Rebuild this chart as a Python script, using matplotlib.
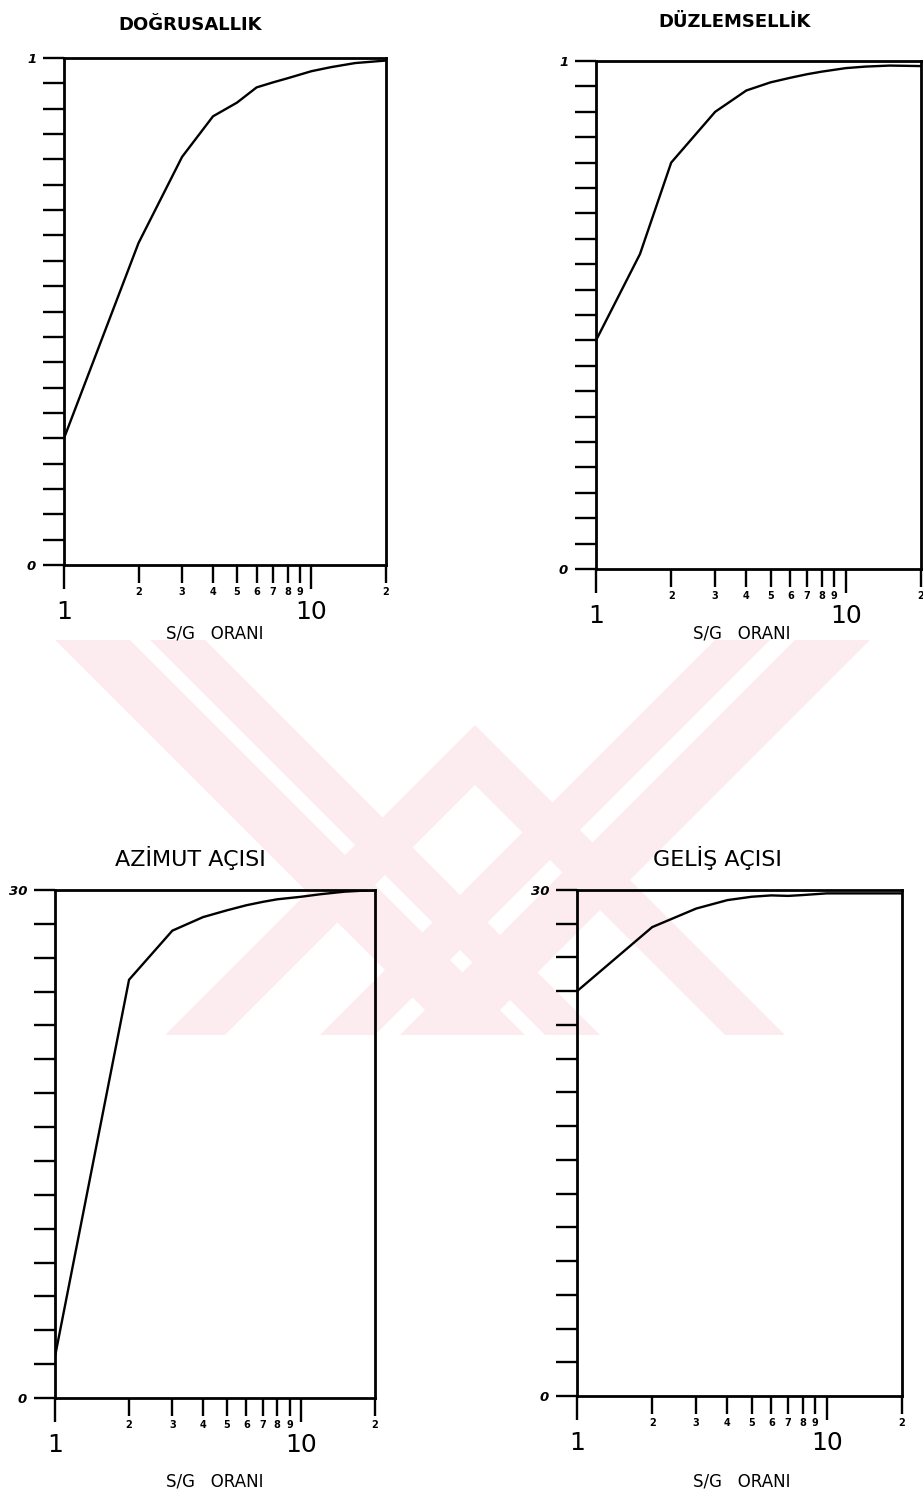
import numpy as np
import matplotlib
matplotlib.use('Agg')
import matplotlib.pyplot as plt
from matplotlib.patches import Polygon
from matplotlib.ticker import FixedLocator, FixedFormatter

# S/G ratio values and curves
sg_dog = [1, 2, 3, 4, 5, 6, 7, 8, 10, 12, 15, 20]
dogrusallik = [0.25, 0.635, 0.805, 0.885, 0.912, 0.942, 0.952, 0.96, 0.974, 0.982, 0.99, 0.995]

sg_duz = [1, 1.5, 2, 3, 4, 5, 6, 7, 8, 10, 12, 15, 20]
duzlemsellik = [0.45, 0.62, 0.80, 0.90, 0.942, 0.958, 0.967, 0.974, 0.979, 0.986, 0.989, 0.991, 0.99]

sg_az = [1, 2, 3, 4, 5, 6, 7, 8, 10, 12, 15, 20]
azimut = [2.45, 24.7, 27.6, 28.4, 28.8, 29.1, 29.3, 29.45, 29.6, 29.75, 29.9, 30.0]

sg_gel = [1, 2, 3, 4, 5, 6, 7, 8, 10, 15, 20]
gelis = [24.0, 27.8, 28.9, 29.4, 29.6, 29.68, 29.65, 29.7, 29.8, 29.8, 29.8]

minor_ticks = [2, 3, 4, 5, 6, 7, 8, 9, 20]
minor_labels = ['2', '3', '4', '5', '6', '7', '8', '9', '2']

W, H = 923, 1505
fig = plt.figure(figsize=(W / 100, H / 100), dpi=100)

#faint pink watermark between the two rows, clipped to its strip
y0, y1 = 640, 1035
wm = fig.add_axes([0, 1 - y1 / H, 1, (y1 - y0) / H], zorder=-5)
wm.set_xlim(0, W)
wm.set_ylim(y1, y0)
wm.axis('off')
pink = '#fcecef'

def band(xtop, xbot, w):
    return [(xtop, y0), (xtop + w, y0), (xbot + w, y1), (xbot, y1)]

shapes = [
    band(55, 450, 75), band(150, 545, 55),      # "\" arm
    band(795, 400, 75), band(715, 320, 55),     # "/" arm
    # lower chevron with its apex under the crossing
    [(165, y1), (475, 725), (785, y1), (725, y1), (475, 785), (225, y1)],
]
for s in shapes:
    wm.add_patch(Polygon(s, closed=True, facecolor=pink, edgecolor='none'))


def panel(rect, x, y, ymax, ytick_step, ytop_label):
    l, t, r, b = rect
    ax = fig.add_axes([l / W, 1 - b / H, (r - l) / W, (b - t) / H])
    ax.patch.set_alpha(0)
    ax.plot(x, y, color='black', lw=1.7)
    ax.set_xscale('log')
    ax.set_xlim(1, 20)
    ax.set_ylim(0, ymax)
    for s in ax.spines.values():
        s.set_linewidth(2.0)

    # y ticks: every step, only the ends labelled
    yt = np.arange(0, ymax + ytick_step / 2, ytick_step)
    ax.set_yticks(yt)
    ylabs = [''] * len(yt)
    ylabs[0] = '0'
    ylabs[-1] = ytop_label
    ax.set_yticklabels(ylabs, fontsize=9.5, fontweight='bold', fontstyle='italic')
    ax.tick_params(axis='y', direction='out', length=15, width=1.7, pad=5)

    # x ticks: decades with big labels, the rest small digits
    ax.xaxis.set_major_locator(FixedLocator([1, 10]))
    ax.xaxis.set_major_formatter(FixedFormatter(['1', '10']))
    ax.xaxis.set_minor_locator(FixedLocator(minor_ticks))
    ax.xaxis.set_minor_formatter(FixedFormatter(minor_labels))
    ax.tick_params(axis='x', which='major', direction='out', length=17, width=1.7,
                   labelsize=18, pad=8)
    ax.tick_params(axis='x', which='minor', direction='out', length=13, width=1.7,
                   labelsize=7, pad=3)
    for lab in ax.xaxis.get_minorticklabels():
        lab.set_fontweight('bold')
    return ax


panel((64, 58, 386, 565), sg_dog, dogrusallik, 1.0, 0.05, '1')
panel((596, 61, 921, 569), sg_duz, duzlemsellik, 1.0, 0.05, '1')
panel((55, 890, 375, 1398), sg_az, azimut, 30, 2, '30')
panel((577, 890, 902, 1396), sg_gel, gelis, 30, 2, '30')

# titles and axis captions
fig.text(190 / W, 1 - 25 / H, 'DOĞRUSALLIK', ha='center', va='center',
         fontsize=13, fontweight='bold')
fig.text(735 / W, 1 - 22 / H, 'DÜZLEMSELLİK', ha='center', va='center',
         fontsize=13, fontweight='bold')
fig.text(190 / W, 1 - 858 / H, 'AZİMUT AÇISI', ha='center', va='center', fontsize=16)
fig.text(717 / W, 1 - 858 / H, 'GELİŞ AÇISI', ha='center', va='center', fontsize=16)
for cx, cy in [(215, 634), (742, 634), (215, 1482), (742, 1482)]:
    fig.text(cx / W, 1 - cy / H, 'S/G   ORANI', ha='center', va='center', fontsize=12)

fig.savefig('out.png', dpi=100, facecolor='white')
